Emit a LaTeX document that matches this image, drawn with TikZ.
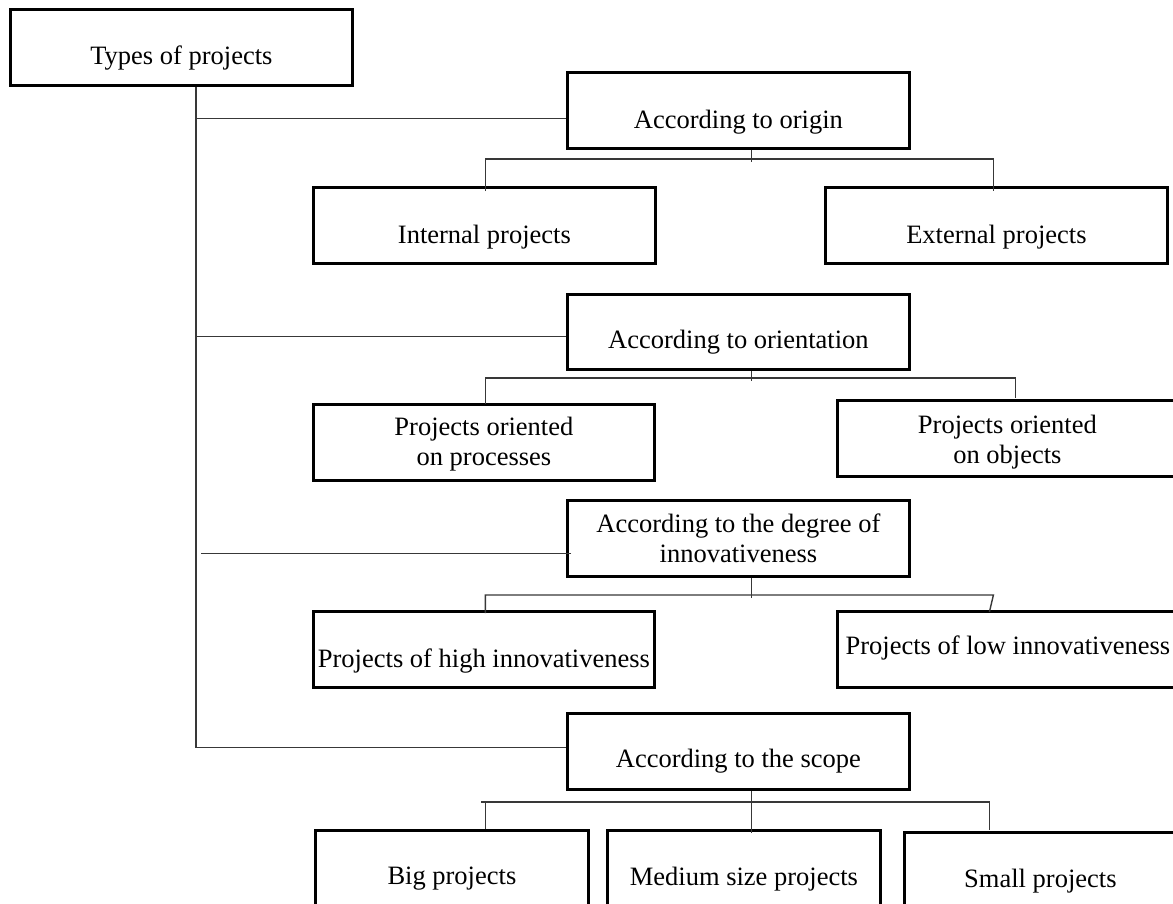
\documentclass[tikz,border=0pt]{standalone}
\usepackage{fontspec}
\setmainfont{Liberation Serif}
\newcommand{\stackedtext}[2]{\begin{tabular}[t]{@{}c@{}}#1\\#2\end{tabular}}
\begin{document}
\begin{tikzpicture}[x=1pt,y=1pt,
  box/.style={draw=black, line width=2.8pt, inner sep=0pt, anchor=north west,
    minimum height=76pt, font=\fontsize{26.5}{30}\selectfont},
  link/.style={draw=black!78, line width=1.4pt}]
\useasboundingbox (0,0) rectangle (1173,-903);
\fill[white] (0,0) rectangle (1173,-903);
\clip (0,0) rectangle (1173,-903);

% root and first-level categories
\node[box, minimum width=342pt, text height=55pt, text depth=21pt] (types) at (9,-8) {Types of projects};
\node[box, minimum width=342pt, text height=56pt, text depth=20pt] (origin) at (566,-71) {According to origin};
\node[box, minimum width=342pt, minimum height=75pt, text height=54pt, text depth=21pt] (orient) at (566,-293) {According to orientation};
\node[box, minimum width=342pt, text height=32pt, text depth=44pt] (innov) at (566,-499) {\stackedtext{According to the degree of}{innovativeness}};
\node[box, minimum width=342pt, text height=54pt, text depth=22pt] (scope) at (566,-712) {According to the scope};

% project types
\node[box, minimum width=342pt, text height=56pt, text depth=20pt] (internal) at (312,-186) {Internal projects};
\node[box, minimum width=342pt, text height=56pt, text depth=20pt] (external) at (824,-186) {External projects};
\node[box, minimum width=341pt, text height=31pt, text depth=45pt] (proc) at (312,-403) {\stackedtext{Projects oriented}{on processes}};
\node[box, minimum width=340pt, text height=33pt, text depth=43pt] (objects) at (836,-399) {\stackedtext{Projects oriented}{on objects}};
\node[box, minimum width=341pt, text height=56pt, text depth=20pt] (high) at (312,-610) {Projects of high innovativeness};
\node[box, minimum width=341pt, text height=43pt, text depth=33pt] (low) at (836,-610) {Projects of low innovativeness};
\node[box, minimum width=273pt, text height=54pt, text depth=22pt] (big) at (314,-829) {Big projects};
\node[box, minimum width=273pt, text height=55pt, text depth=21pt] (medium) at (606,-829) {Medium size projects};
\node[box, minimum width=272pt, text height=55pt, text depth=21pt] (small) at (903,-831) {Small projects};

% trunk and branches to the categories
\coordinate (tk) at (196,-84);
\coordinate (gap) at (201,-84);
\draw[link] (types.south -| tk) |- ([yshift=4pt]scope.west);
\draw[link] ([yshift=-8pt]origin.west) -- ([yshift=-8pt]origin.west -| tk);
\draw[link] ([yshift=-4.5pt]orient.west) -- ([yshift=-4.5pt]orient.west -| tk);
\draw[link] ([xshift=5pt,yshift=-15pt]innov.west) -- ([yshift=-15pt]innov.west -| gap);

% according to origin
\draw[link] ([xshift=13pt]origin.south) -- ++(0,-12);
\draw[link] ([xshift=1pt,yshift=-5pt]internal.north) -- ++(0,32) -| ([xshift=-3pt,yshift=-5pt]external.north);

% according to orientation
\draw[link] ([xshift=13pt]orient.south) -- ++(0,-10);
\draw[link] ([xshift=1.5pt,yshift=-1pt]proc.north) -- ++(0,26) -| ([xshift=8pt,yshift=1pt]objects.north);

% according to innovativeness
\draw[link] ([xshift=13pt]innov.south) -- ++(0,-20);
\draw[link] ([xshift=1.5pt,yshift=-3pt]high.north) -- ++(0,18) -- ([xshift=-14.5pt,yshift=15pt]low.north) -- ([xshift=-18.5pt,yshift=-2pt]low.north);

% according to scope
\draw[link] ([xshift=13pt]scope.south) -- ([xshift=7.5pt,yshift=-4pt]medium.north);
\draw[link] ([xshift=29.5pt,yshift=27pt]big.north) -| ([xshift=-51pt,yshift=1pt]small.north);
\draw[link] ([xshift=33.5pt]big.north) -- ++(0,27);
\end{tikzpicture}
\end{document}
